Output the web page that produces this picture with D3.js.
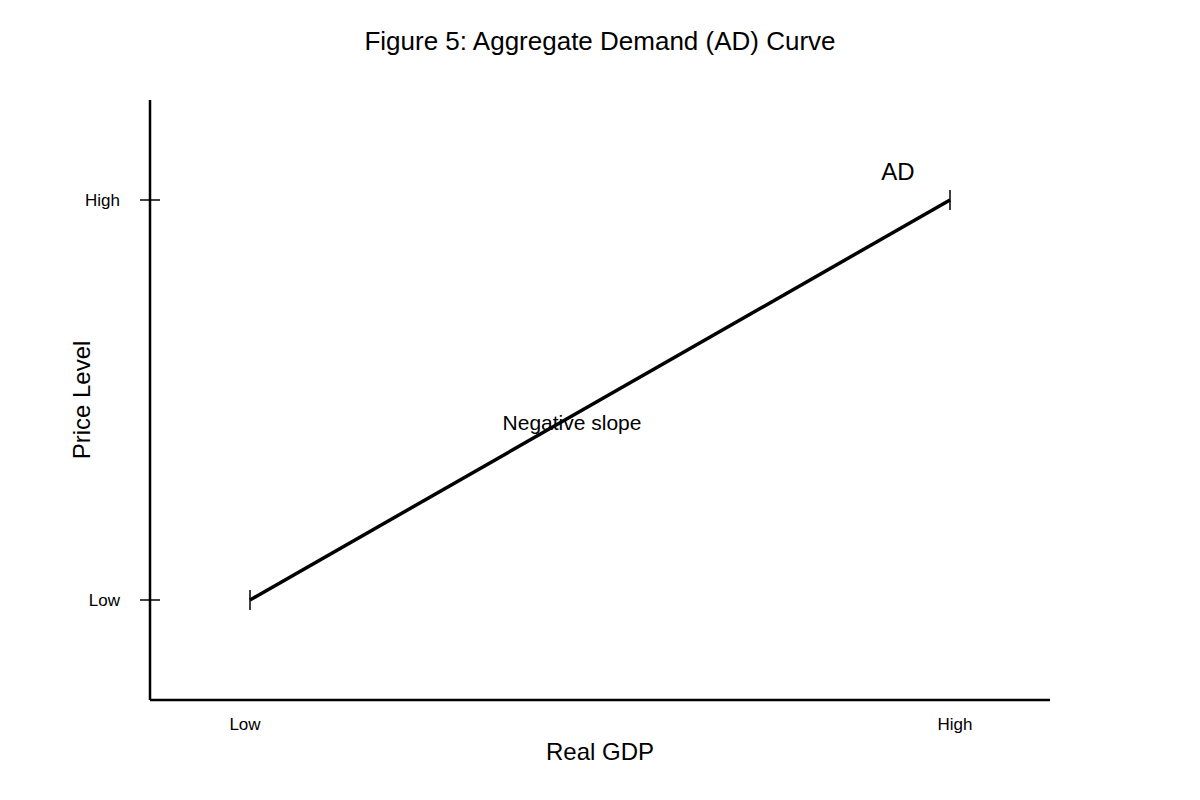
<!DOCTYPE html>
<html>
<head>
<meta charset="utf-8">
<script src="https://cdn.jsdelivr.net/npm/d3@7"></script>
<style>
body { margin: 0; background: #fff; }
text { font-family: "Liberation Sans", Arial, sans-serif; fill: #000; }
</style>
</head>
<body>
<svg id="chart" width="1200" height="800"></svg>
<script>
// curve points (real GDP, price level) in abstract units
var curveX = [1, 8];
var curveY = [1, 5];
var xTickVals = [0.95, 8.05];
var xTickLabels = ["Low", "High"];
var yTickVals = [1, 5];
var yTickLabels = ["Low", "High"];

var svg = d3.select('#chart');
var x = d3.scaleLinear().domain([0, 9]).range([150, 1050]);
var y = d3.scaleLinear().domain([0, 6]).range([700, 100]);

svg.append('text').attr('x', 600).attr('y', 50).attr('text-anchor', 'middle')
    .style('font-size', '26px').text('Figure 5: Aggregate Demand (AD) Curve');

// axes
svg.append('line').attr('x1', x(0)).attr('x2', x(0)).attr('y1', y(6)).attr('y2', y(0))
    .attr('stroke', '#000').attr('stroke-width', 2.5);
svg.append('line').attr('x1', x(0)).attr('x2', x(9)).attr('y1', y(0)).attr('y2', y(0))
    .attr('stroke', '#000').attr('stroke-width', 2.5);

yTickVals.forEach(function(v, i) {
    svg.append('line').attr('x1', x(0) - 10).attr('x2', x(0) + 10).attr('y1', y(v)).attr('y2', y(v))
        .attr('stroke', '#000').attr('stroke-width', 1.5);
    svg.append('text').attr('x', 120).attr('y', y(v) + 6).attr('text-anchor', 'end')
        .style('font-size', '17px').text(yTickLabels[i]);
});
xTickVals.forEach(function(v, i) {
    svg.append('text').attr('x', x(v)).attr('y', 730).attr('text-anchor', 'middle')
        .style('font-size', '17px').text(xTickLabels[i]);
});

svg.append('text').attr('x', 600).attr('y', 760).attr('text-anchor', 'middle')
    .style('font-size', '24px').text('Real GDP');
svg.append('text').attr('transform', 'translate(90,400) rotate(-90)').attr('text-anchor', 'middle')
    .style('font-size', '24px').text('Price Level');

// AD curve
var pts = curveX.map(function(d, i) { return [x(d), y(curveY[i])]; });
svg.append('path').attr('d', d3.line()(pts)).attr('stroke', '#000')
    .attr('stroke-width', 3.5).attr('fill', 'none');
pts.forEach(function(p) {
    svg.append('line').attr('x1', p[0]).attr('x2', p[0]).attr('y1', p[1] - 10).attr('y2', p[1] + 10)
        .attr('stroke', '#000').attr('stroke-width', 1.5);
});

svg.append('text').attr('x', 898).attr('y', 180).attr('text-anchor', 'middle')
    .style('font-size', '24px').text('AD');
svg.append('text').attr('x', 572).attr('y', 430).attr('text-anchor', 'middle')
    .style('font-size', '21px').text('Negative slope');
</script>
</body>
</html>
